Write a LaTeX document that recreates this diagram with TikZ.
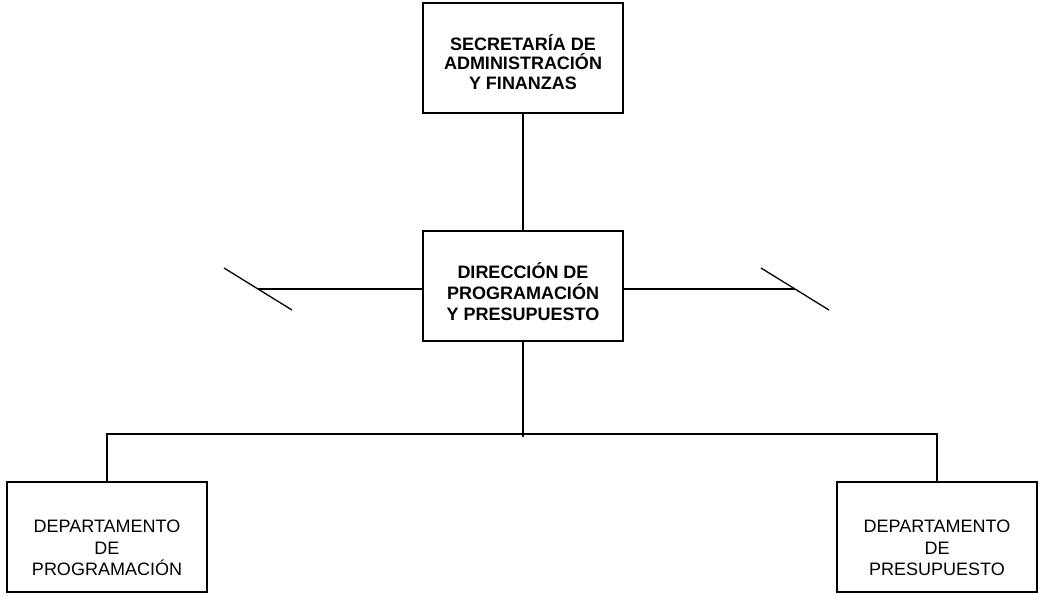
\documentclass[tikz,border=0pt]{standalone}
\usepackage{fontspec}
\setmainfont{Liberation Sans}
\usetikzlibrary{calc}
\tikzset{
  caja/.style={draw, line width=1.5pt, minimum width=200pt, minimum height=110pt, inner sep=0pt},
  secrtxt/.style={align=center, yshift=-4pt, font=\fontsize{18}{19.5}\selectfont\bfseries},
  dirtxt/.style={align=center, yshift=-6pt, font=\fontsize{18}{21}\selectfont\bfseries},
  deptotxt/.style={align=center, yshift=-11pt, font=\fontsize{18}{21.5}\selectfont},
  linea/.style={line width=1.3pt}
}
\newcommand{\corte}[1]{\draw[linea] ($(#1)+(-34,-21)$) -- ($(#1)+(34,21)$);}
\newcommand{\caja}[4]{\node[caja, label={[#3]center:{#4}}] (#1) at (#2) {};}

\begin{document}
\begin{tikzpicture}[x=1pt, y=-1pt]
        \useasboundingbox (0,0) rectangle (1038,595);
        % boxes
        \caja{sec}{523,58}{secrtxt}{SECRETAR\'IA DE\\ADMINISTRACI\'ON\\Y FINANZAS}
        \caja{dir}{523,286}{dirtxt}{DIRECCI\'ON DE\\PROGRAMACI\'ON\\Y PRESUPUESTO}
        \caja{prog}{107,537}{deptotxt}{DEPARTAMENTO\\DE\\PROGRAMACI\'ON}
        \caja{pres}{937,537}{deptotxt}{DEPARTAMENTO\\DE\\PRESUPUESTO}
        % free ends
        \coordinate (izq) at (258,289);
        \coordinate (der) at (795,289);
        \coordinate (bus) at (523,434);
        % lines
        \draw[linea] (sec.south) -- (dir.north);
        \draw[linea] (dir.west |- izq) -- (izq);
        \draw[linea] (dir.east |- der) -- (der);
        \corte{izq}
        \corte{der}
        \draw[linea] (dir.south) -- ($(bus)+(0,3)$);
        \draw[linea] (prog.north) |- (bus) -| (pres.north);
    \end{tikzpicture}
\end{document}
